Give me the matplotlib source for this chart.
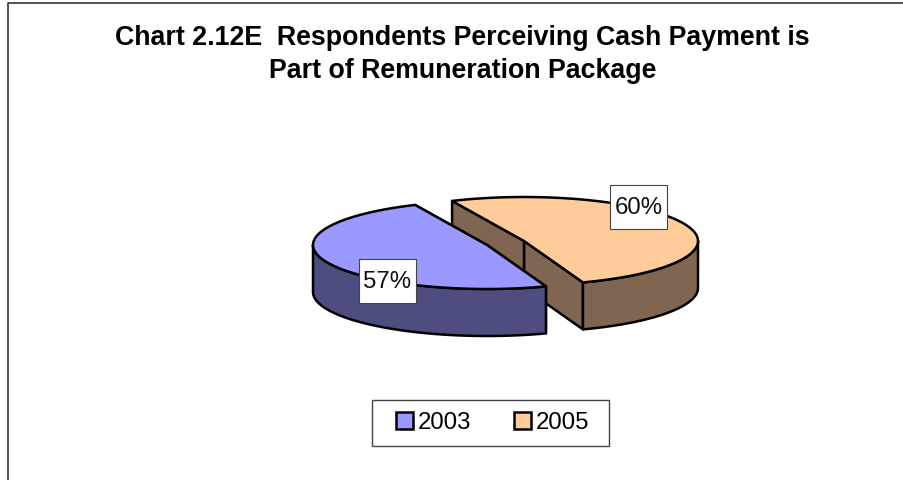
import numpy as np
import matplotlib
matplotlib.use("Agg")
import matplotlib.pyplot as plt
from matplotlib.patches import Patch, Polygon, Rectangle

years = ["2003", "2005"]
values = [57, 60]
labels = ["57%", "60%"]
top_colors = ["#9999ff", "#ffcc99"]
side_colors = ["#4d4d80", "#806650"]

plt.rcParams['font.family'] = ['Liberation Sans', 'DejaVu Sans']

# pixel coordinates, so the layout can be read straight off the reference
fig = plt.figure(figsize=(9.04, 4.80), dpi=100)
ax = fig.add_axes([0, 0, 1, 1])
ax.set_xlim(0, 904)
ax.set_ylim(480, 0)
ax.axis('off')

RX, RY, DEPTH = 174, 44, 47
CENTERS = [(487, 245), (524, 241)]
START = -70.2  # where the 2005 slice begins


def rim(c, a1, a2, n=100):
    t = np.radians(np.linspace(a1, a2, n))
    return np.column_stack([c[0] + RX * np.cos(t), c[1] - RY * np.sin(t)])


def wall(points):
    lower = points[::-1] + [0, DEPTH]
    return np.vstack([points, lower])


def draw_slice(c, a1, a2, top, side, z):
    edge = dict(edgecolor='black', linewidth=1.8, joinstyle='round')
    arc = rim(c, a1, a2)
    # radial faces, only seen on the 2005 slice
    for p in (arc[0], arc[-1]):
        ax.add_patch(Polygon(wall(np.array([c, p])), facecolor=side, zorder=z, **edge))
    # outer wall: the part of the rim that faces the viewer
    lo, hi = a1, a2
    if a1 < 0 < a2:
        lo, hi = a1, 0
    elif a1 < 180 < a2:
        lo, hi = 180, a2
    ax.add_patch(Polygon(wall(rim(c, lo, hi)), facecolor=side, zorder=z + 0.1, **edge))
    ax.add_patch(Polygon(np.vstack([[c], arc]), facecolor=top, zorder=z + 0.2, **edge))


sweep = [v / sum(values) * 360 for v in values]
draw_slice(CENTERS[1], START, START + sweep[1], top_colors[1], side_colors[1], 2)
draw_slice(CENTERS[0], START + sweep[1], START + 360, top_colors[0], side_colors[0], 3)

# chart frame: only the top and left edges are inside the picture
ax.plot([8.5, 8.5, 904], [480, 2.5, 2.5], color='#333333', linewidth=1.2, zorder=1)

ax.text(462.5, 54.5, "Chart 2.12E  Respondents Perceiving Cash Payment is\nPart of Remuneration Package",
        ha='center', va='center', fontsize=19.3, fontweight='bold', linespacing=1.37, zorder=5)

label_pos = [(387.5, 280.5), (638.5, 207)]
for pos, txt in zip(label_pos, labels):
    ax.add_patch(Rectangle((pos[0] - 28.5, pos[1] - 22), 57, 44, facecolor='white',
                           edgecolor='#444444', linewidth=0.8, zorder=6))
    ax.text(pos[0], pos[1] + 1, txt, ha='center', va='center', fontsize=17.3, color='#111111', zorder=7)

ax.add_patch(Rectangle((372.5, 400), 237, 46, facecolor='white', edgecolor='#444444',
                       linewidth=1.0, zorder=4))
handles = [Patch(facecolor=c, edgecolor='black', linewidth=1.8) for c in top_colors]
leg = ax.legend(handles, years, ncol=2, loc='center', bbox_to_anchor=(492.5 / 904, 1 - 423 / 480),
                fontsize=17.3, frameon=False, handlelength=0.7, handleheight=0.7,
                handletextpad=0.2, columnspacing=1.8, borderpad=0)
leg.set_zorder(5)

fig.savefig("out.png", dpi=100)
